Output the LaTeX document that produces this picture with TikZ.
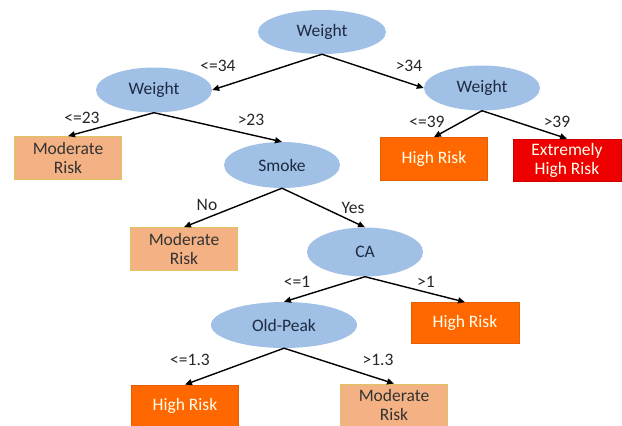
\documentclass[tikz,border=0pt]{standalone}
\usepackage{fontspec}
\setmainfont{Carlito}
\usetikzlibrary{shapes.geometric,arrows.meta}

\definecolor{splitblue}{RGB}{160,192,230}
\definecolor{splittext}{RGB}{30,42,66}
\definecolor{modfill}{RGB}{244,178,132}
\definecolor{modline}{RGB}{222,196,96}
\definecolor{highfill}{RGB}{255,104,0}
\definecolor{extfill}{RGB}{238,0,0}

\begin{document}
\begin{tikzpicture}[
    x=1pt, y=-1pt,
    every node/.style={font=\fontsize{17.5}{19}\selectfont, align=center},
    split/.style={ellipse, fill=splitblue, text=splittext, inner sep=0pt, minimum width=116pt, minimum height=45pt},
    leaf/.style={rectangle, inner sep=0pt, minimum width=107pt, minimum height=43pt, line width=0.8pt},
    moderate/.style={leaf, fill=modfill, draw=modline, text=black!80},
    high/.style={leaf, fill=highfill, draw=highfill!90!black, text=white!92!yellow},
    extreme/.style={leaf, fill=extfill, draw=extfill!85!black, text=white!92!yellow},
    branch/.style={-{Triangle[length=7pt,width=6pt]}, line width=1.4pt},
    cond/.style={text=black!85}
]
\useasboundingbox (0,0) rectangle (622,426);

% splits
\node[split, minimum width=128pt, minimum height=44pt] (root) at (322,32) {Weight};
\node[split] (wlow) at (154,90) {Weight};
\node[split] (whigh) at (482,88) {Weight};
\node[split, minimum height=46pt] (smoke) at (282,165) {Smoke};
\node[split, minimum height=49pt] (ca) at (365,252) {CA};
\node[split, minimum width=146pt, minimum height=46pt] (peak) at (284,325) {Old-Peak};

% leaves
\node[moderate] (mod1) at (68,158) {Moderate\\Risk};
\node[high] (high1) at (434,159) {High Risk};
\node[extreme, minimum width=108pt, minimum height=42pt] (ext) at (567,160) {Extremely\\High Risk};
\node[moderate] (mod2) at (184,249) {Moderate\\Risk};
\node[high, minimum width=108pt, minimum height=41pt] (high2) at (465,323) {High Risk};
\node[high, minimum height=42pt] (high3) at (185,406) {High Risk};
\node[moderate, minimum height=42pt] (mod3) at (394,405) {Moderate\\Risk};

% branches
\draw[branch] (root.south) -- (wlow.east);
\draw[branch] (root.south) -- (whigh.west);
\draw[branch] (wlow.south) -- (mod1.north);
\draw[branch] (wlow.south) -- (smoke.north);
\draw[branch] (whigh.south) -- (high1.north);
\draw[branch] (whigh.south) -- (ext.north);
\draw[branch] (smoke.south) -- (mod2.north);
\draw[branch] (smoke.south) -- (ca.north);
\draw[branch] (ca.south) -- (peak.north);
\draw[branch] (ca.south) -- (high2.north);
\draw[branch] (peak.south) -- (high3.north);
\draw[branch] (peak.south) -- (mod3.north);

% conditions
\node[cond] (c34a) at (218,66) {<=34};
\node[cond] (c34b) at (409,66) {>34};
\node[cond] (c23a) at (82,118) {<=23};
\node[cond] (c23b) at (251,120) {>23};
\node[cond] (c39a) at (427,122) {<=39};
\node[cond] (c39b) at (557,122) {>39};
\node[cond] (cno) at (207,205) {No};
\node[cond] (cyes) at (353,208) {Yes};
\node[cond] (c1a) at (297,282) {<=1};
\node[cond] (c1b) at (426,282) {>1};
\node[cond] (c13a) at (190,360) {<=1.3};
\node[cond] (c13b) at (378,360) {>1.3};
\end{tikzpicture}
\end{document}
